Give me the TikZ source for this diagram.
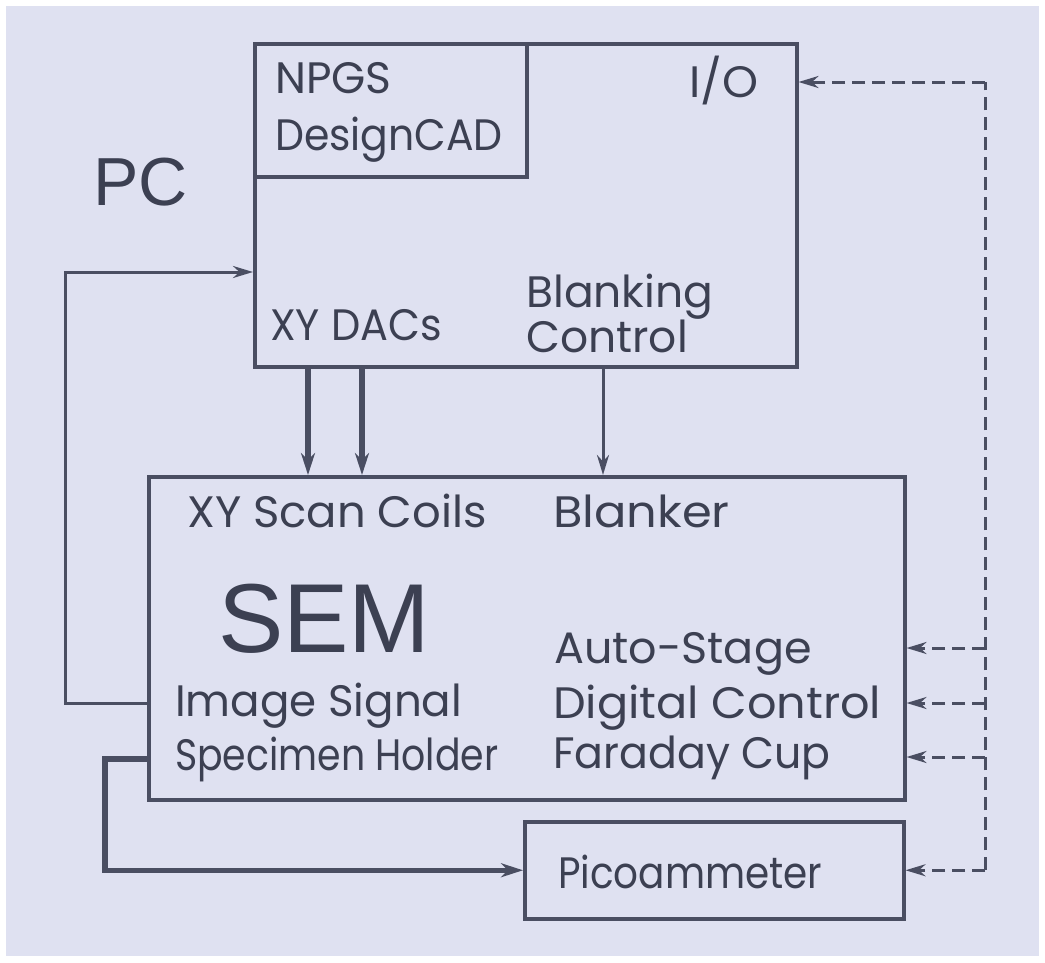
\documentclass[tikz,border=0pt]{standalone}
\usepackage{fontspec}
\setmainfont{Poppins}
\newfontfamily\bigfont{Liberation Sans}
\usetikzlibrary{arrows.meta}
\definecolor{bg}{HTML}{DFE1F1}
\definecolor{lc}{HTML}{4A4E62}
\definecolor{tc}{HTML}{3C4052}
\newcommand{\hs}[2]{\scalebox{#1}[1]{#2}}
\tikzset{
  box/.style={draw=lc, line width=3.5pt, inner sep=0pt},
  lbl/.style={anchor=base west, inner sep=0pt, text=tc, font=\fontsize{44}{50}\selectfont},
  biglbl/.style={anchor=base west, inner sep=0pt, text=tc},
  thinarr/.style={draw=lc, line width=3pt, -{Stealth[length=20pt,width=12pt]}},
  thickarr/.style={draw=lc, line width=5.5pt, -{Stealth[length=22pt,width=14pt]}},
  dasharr/.style={draw=lc, line width=3pt, dash pattern=on 13pt off 7pt, -{Stealth[length=20pt,width=12pt]}},
  dashline/.style={draw=lc, line width=3pt, dash pattern=on 13pt off 7pt}
}
\begin{document}
\begin{tikzpicture}[x=1pt,y=-1pt]
\useasboundingbox (0,0) rectangle (1045,962);
\fill[white] (0,0) rectangle (1045,962);
\fill[bg] (6,6) rectangle (1039,956);
% boxes
\node[box, minimum width=542pt, minimum height=323pt, anchor=north west] (pc) at (253,42) {};
\node[box, minimum width=272pt, minimum height=133pt, anchor=north west] (npgs) at (253,42) {};
\node[box, minimum width=756pt, minimum height=323pt, anchor=north west] (sem) at (147,475) {};
\node[box, minimum width=379pt, minimum height=97pt, anchor=north west] (pico) at (523,820) {};
% labels
\node[lbl] (tnpgs) at (275,93) {NPGS};
\node[lbl] (tdcad) at (275,150) {\hs{0.93}{DesignCAD}};
\node[lbl] (tio) at (689,97) {\hs{1.04}{I/O}};
\node[biglbl, font=\bigfont\fontsize{68}{70}\selectfont] (tpc) at (93,205) {PC};
\node[lbl] (txy) at (270,340) {\hs{0.94}{XY DACs}};
\node[lbl] (tbl1) at (526,307) {Blanking};
\node[lbl] (tbl2) at (526,352) {Control};
\node[lbl] (tcoils) at (187,527) {\hs{1.02}{XY Scan Coils}};
\node[lbl] (tblanker) at (553,527) {\hs{1.09}{Blanker}};
\node[biglbl, font=\bigfont\fontsize{98}{100}\selectfont] (tsem) at (218,652) {SEM};
\node[lbl] (tauto) at (554,663) {\hs{1.01}{Auto-Stage}};
\node[lbl] (tdig) at (553,718) {\hs{1.05}{Digital Control}};
\node[lbl] (tfar) at (553,768) {\hs{0.97}{Faraday Cup}};
\node[lbl] (timg) at (175,716) {\hs{0.99}{Image Signal}};
\node[lbl] (tspec) at (175,770) {\hs{0.86}{Specimen Holder}};
\node[lbl] (tpico) at (558,888) {\hs{0.885}{Picoammeter}};
% helper coordinates
\coordinate (xa) at (308,0);
\coordinate (xb) at (362,0);
\coordinate (xc) at (603,0);
\coordinate (xl) at (65,0);
\coordinate (xl2) at (105,0);
\coordinate (xr) at (985,0);
\coordinate (yfb) at (0,272);
\coordinate (yimg) at (0,703);
\coordinate (yspec) at (0,759);
\coordinate (yio) at (0,82);
\coordinate (y1) at (0,648);
\coordinate (y2) at (0,703);
\coordinate (y3) at (0,757);
% connectors
\draw[thickarr] (pc.south -| xa) -- (sem.north -| xa);
\draw[thickarr] (pc.south -| xb) -- (sem.north -| xb);
\draw[thinarr] (pc.south -| xc) -- (sem.north -| xc);
\draw[thinarr] (sem.west |- yimg) -| (xl |- yfb) -- (pc.west |- yfb);
\draw[thickarr] (sem.west |- yspec) -| (xl2 |- pico.west) -- (pico.west);
\draw[dashline] (xr |- pico.east) -- (xr |- yio);
\draw[dasharr] (xr |- yio) -- (pc.east |- yio);
\draw[dasharr] (xr |- y1) -- (sem.east |- y1);
\draw[dasharr] (xr |- y2) -- (sem.east |- y2);
\draw[dasharr] (xr |- y3) -- (sem.east |- y3);
\draw[dasharr] (xr |- pico.east) -- (pico.east);
\end{tikzpicture}
\end{document}
